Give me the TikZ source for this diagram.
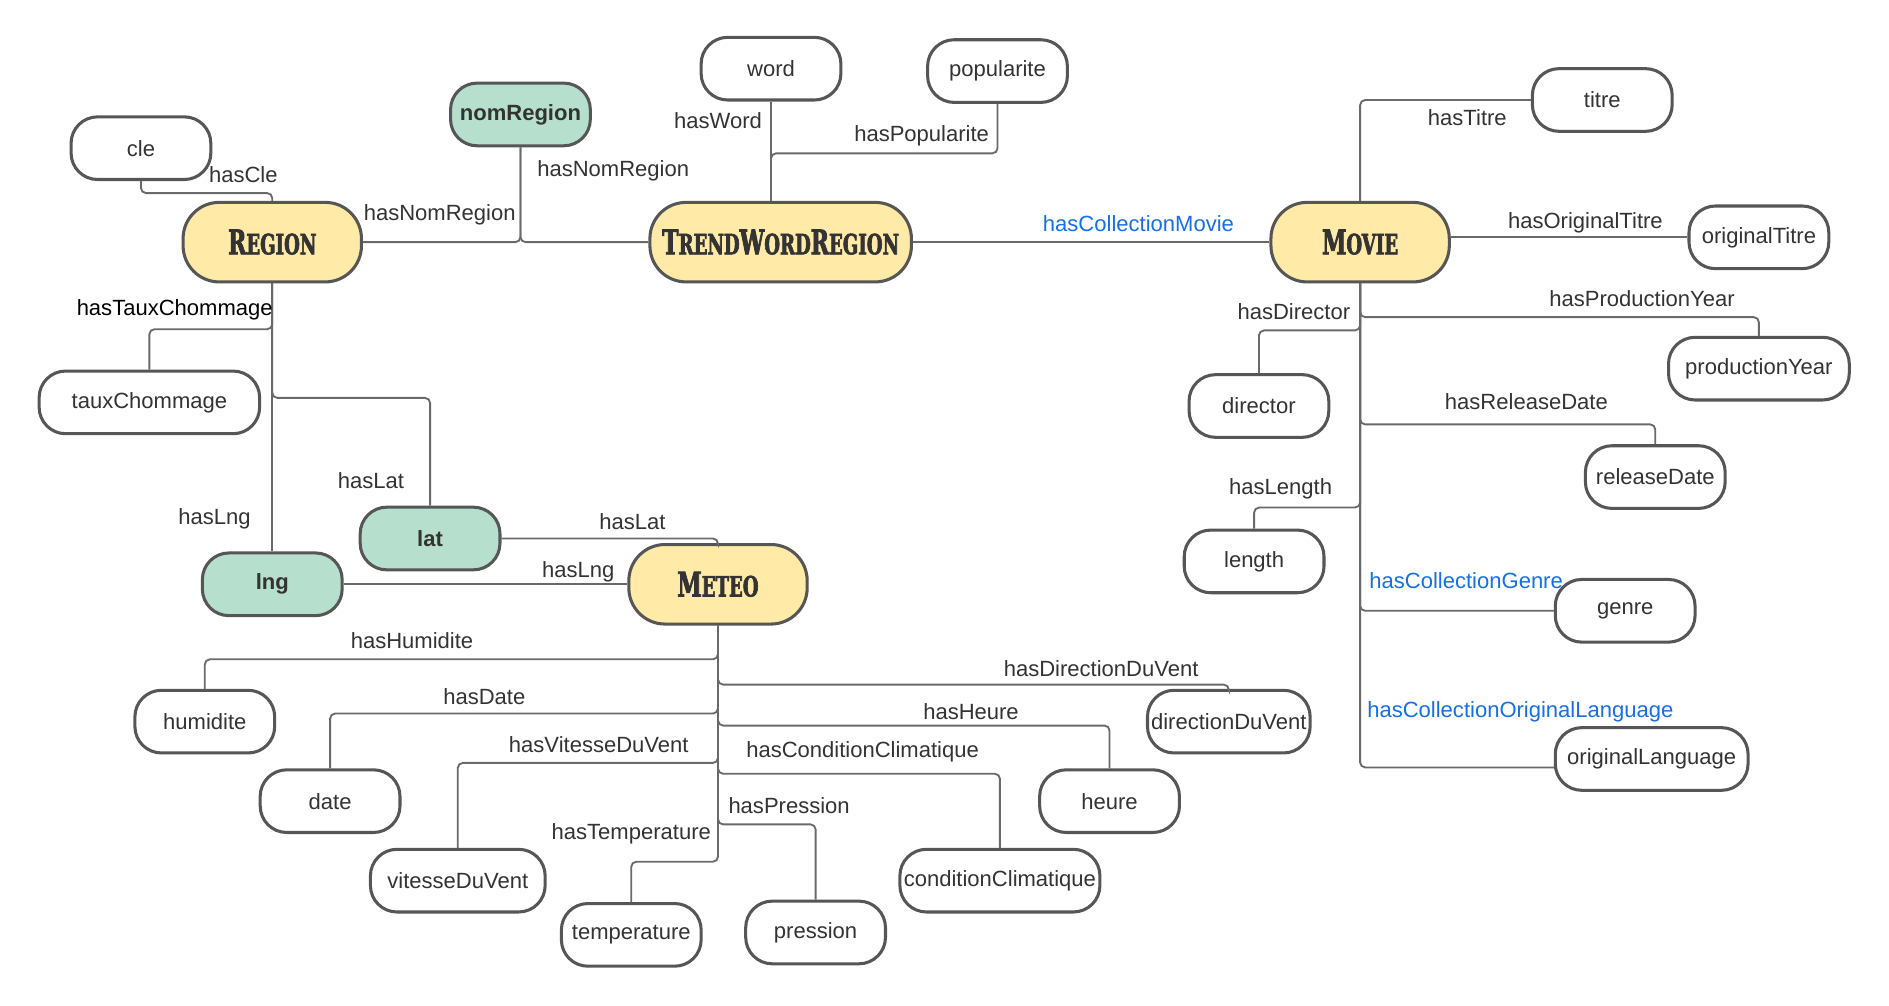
\documentclass[tikz,border=0pt]{standalone}
\usepackage{fontspec}
\setmainfont{Liberation Sans}
\newfontfamily\titrefont[FakeStretch=0.72, FakeBold=2.2]{DejaVu Serif Condensed Bold}
\usetikzlibrary{positioning}
\definecolor{jaune}{HTML}{FFEAA7}
\definecolor{vert}{HTML}{B7DFCD}
\definecolor{bord}{HTML}{565656}
\definecolor{trait}{HTML}{6A6A6A}
\definecolor{texte}{HTML}{333333}
\definecolor{bleu}{HTML}{1570E6}
\tikzset{%
      classe/.style={draw=bord, fill=jaune, line width=1.8pt, text=texte, minimum width=3.7cm, minimum height=1.65cm, rounded corners=0.75cm, font=\titrefont\fontsize{20}{24}\selectfont},
      attribut/.style={draw=bord, fill=white, line width=1.8pt, text=texte, minimum width=2.9cm, minimum height=1.3cm, inner xsep=1pt, rounded corners=0.55cm, font=\fontsize{13}{15}\selectfont},
      identifiant/.style={attribut, fill=vert, font=\bfseries\fontsize{13}{15}\selectfont},
      texto/.style={text=texte, inner sep=1pt, font=\fontsize{13}{15}\selectfont},
      texbleu/.style={texto, text=bleu},
      line/.style={draw, line width=1.1pt, color=trait, rounded corners=3pt},
    }
\newcommand{\classe}[3]{node (#1) [classe,#2] {#3}}
\newcommand{\attribut}[3]{node (#1) [attribut,#2] {#3}}
\newcommand{\identifiant}[2]{node (#1) [identifiant] {#2}}
\newcommand{\petitcap}[2]{#1{\fontsize{16.5}{19}\selectfont #2}}

\begin{document}
\begin{tikzpicture}[x=0.025cm, y=-0.025cm]
      \useasboundingbox (0,0) rectangle (1568,835);

      % Draw diagram elements
      \path (226,201) \classe{region}{}{\petitcap{R}{EGION}};
      \path (648,201) \classe{twr}{minimum width=5.425cm}{\petitcap{T}{REND}\petitcap{W}{ORD}\petitcap{R}{EGION}};
      \path (1129,201) \classe{movie}{}{\petitcap{M}{OVIE}};
      \path (596,485) \classe{meteo}{}{\petitcap{M}{ETEO}};

      \path (432,95) \identifiant{nomregion}{nomRegion};
      \path (357,447) \identifiant{lat}{lat};
      \path (226,485) \identifiant{lng}{lng};

      \path (117,123) \attribut{cle}{}{cle};
      \path (640,57) \attribut{word}{}{word};
      \path (828,59) \attribut{popularite}{}{popularite};
      \path (1330,83) \attribut{titre}{}{titre};
      \path (1460,197) \attribut{origtitre}{}{originalTitre};
      \path (124,334) \attribut{taux}{minimum width=4.575cm}{tauxChommage};
      \path (1045,337) \attribut{director}{}{director};
      \path (1460,306) \attribut{prodyear}{minimum width=3.75cm}{productionYear};
      \path (1374,396) \attribut{releasedate}{}{releaseDate};
      \path (1041,466) \attribut{length}{}{length};
      \path (1349,507) \attribut{genre}{}{genre};
      \path (1371,630) \attribut{origlang}{minimum width=4cm}{originalLanguage};
      \path (170,599) \attribut{humidite}{}{humidite};
      \path (1020,599) \attribut{direction}{minimum width=3.375cm}{directionDuVent};
      \path (274,665) \attribut{date}{}{date};
      \path (921,665) \attribut{heure}{}{heure};
      \path (380,731) \attribut{vitesse}{minimum width=3.625cm}{vitesseDuVent};
      \path (830,731) \attribut{condition}{minimum width=4.15cm}{conditionClimatique};
      \path (524,776) \attribut{temperature}{}{temperature};
      \path (677,774) \attribut{pression}{}{pression};

      % Draw lines between elements
      \path [line] (cle.south) -- ++(0,10) -| (region.north);
      \path [line] (nomregion.south) |- (region.east);
      \path [line] (nomregion.south) |- (twr.west);
      \path [line] (word.south) -- (word.south |- twr.north);
      \path [line] (popularite.south) -- ++(0,41) -| (word.south |- twr.north);
      \path [line] (twr.east) -- (movie.west);

      \path [line] (movie.north) |- (titre.west);
      \path [line] (origtitre.west) -- (origtitre.west -| movie.east);
      \path [line] (movie.south) -- ++(0,39) -| (director.north);
      \path [line] (movie.south) -- ++(0,28) -| (prodyear.north);
      \path [line] (movie.south) -- ++(0,117) -| (releasedate.north);
      \path [line] (movie.south) -- ++(0,186) -| (length.north);
      \path [line] (movie.south) |- (genre.west);
      \path [line] (movie.south) |- ([yshift=-5pt]origlang.west);

      \path [line] (region.south) -- (lng.north);
      \path [line] (region.south) -- ++(0,38) -| (taux.north);
      \path [line] (region.south) -- ++(0,95) -| (lat.north);
      \path [line] (lat.east) -| (meteo.north);
      \path [line] (lng.east) -- (meteo.west);

      \path [line] (meteo.south) -- ++(0,28) -| (humidite.north);
      \path [line] (meteo.south) -- ++(0,49) -| (direction.north);
      \path [line] (meteo.south) -- ++(0,73) -| (date.north);
      \path [line] (meteo.south) -- ++(0,83) -| (heure.north);
      \path [line] (meteo.south) -- ++(0,114) -| (vitesse.north);
      \path [line] (meteo.south) -- ++(0,123) -| (condition.north);
      \path [line] (meteo.south) -- ++(0,165) -| (pression.north);
      \path [line] (meteo.south) -- ++(0,196) -| (temperature.north);

      % Draw labels of the lines
      \path (202,145) node (tcle) [texto] {hasCle};
      \path (365,178) node (tnom1) [texto] {hasNomRegion};
      \path (509,142) node (tnom2) [texto] {hasNomRegion};
      \path (596,100) node (tword) [texto] {hasWord};
      \path (765,113) node (tpop) [texto] {hasPopularite};
      \path (945,186) node (tcolmovie) [texbleu] {hasCollectionMovie};
      \path (1218,98) node (ttitre) [texto] {hasTitre};
      \path (1316,185) node (torigtitre) [texto] {hasOriginalTitre};
      \path (1363,248) node (tprod) [texto] {hasProductionYear};
      \path (1074,259) node (tdirector) [texto] {hasDirector};
      \path (1267,333) node (trelease) [texto] {hasReleaseDate};
      \path (1063,406) node (tlength) [texto] {hasLength};
      \path (1217,482) node (tgenre) [texbleu] {hasCollectionGenre};
      \path (1262,591) node (tlang) [texbleu] {hasCollectionOriginalLanguage};

      \path (145,257) node (ttaux) [texto, text=black] {hasTauxChommage};
      \path (308,399) node (tlat1) [texto] {hasLat};
      \path (178,431) node (tlng1) [texto] {hasLng};
      \path (525,433) node (tlat2) [texto] {hasLat};
      \path (480,475) node (tlng2) [texto] {hasLng};

      \path (342,532) node (thumid) [texto] {hasHumidite};
      \path (914,555) node (tdir) [texto] {hasDirectionDuVent};
      \path (402,578) node (tdate) [texto] {hasDate};
      \path (806,591) node (theure) [texto] {hasHeure};
      \path (497,618) node (tvit) [texto] {hasVitesseDuVent};
      \path (716,624) node (tcond) [texto] {hasConditionClimatique};
      \path (655,669) node (tpress) [texto] {hasPression};
      \path (524,692) node (ttemp) [texto] {hasTemperature};

    \end{tikzpicture}
\end{document}
